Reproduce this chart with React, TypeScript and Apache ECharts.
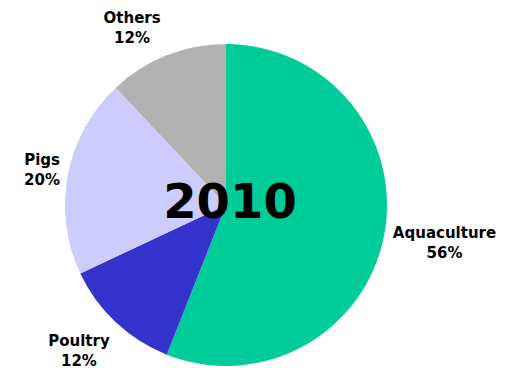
import React, { useEffect, useRef } from "react";
import * as echarts from "echarts";

const categories = ["Aquaculture", "Poultry", "Pigs", "Others"];
const shares = [56, 12, 20, 12];
const colors = ["#00CC99", "#3333CC", "#CCCCFF", "#B2B2B2"];
const yearLabel = "2010";

// small per-label nudges (style only)
const labelNudge: [number, number][] = [
  [-1, -4],
  [-7, -3],
  [3, 1],
  [-21, 7],
];

const CX = 226;
const CY = 205;
const R = 161;
const GAP = 8;
const FONT = "'DejaVu Sans', Verdana, sans-serif";

export default function App() {
  const ref = useRef<HTMLDivElement>(null);
  useEffect(() => {
    document.body.style.margin = "0";
    if (!ref.current) return;
    const chart = echarts.init(ref.current, undefined, { renderer: "svg" });
    const total = shares.reduce((a, b) => a + b, 0);
    const midAngle = (i: number) => {
      let before = 0;
      for (let k = 0; k < i; k++) before += shares[k];
      const frac = (before + shares[i] / 2) / total;
      return Math.PI / 2 - frac * 2 * Math.PI;
    };
    chart.setOption({
      animation: false,
      graphic: [
        {
          type: "text",
          x: 230,
          y: 201,
          z: 100,
          style: {
            text: yearLabel,
            font: `bold 48px ${FONT}`,
            fill: "#000",
            align: "center",
            verticalAlign: "middle",
          },
        },
      ],
      series: [
        {
          type: "pie",
          center: [CX, CY],
          radius: R,
          startAngle: 90,
          clockwise: true,
          data: categories.map((name, i) => ({
            name,
            value: shares[i],
            itemStyle: { color: colors[i] },
          })),
          label: {
            show: true,
            position: "outside",
            formatter: "{b}\n{d}%",
            fontFamily: FONT,
            fontWeight: "bold",
            fontSize: 15,
            lineHeight: 20,
            color: "#000",
            align: "center",
            overflow: "none",
          },
          labelLine: { show: false },
          labelLayout: (params: any) => {
            const i = params.dataIndex;
            const a = midAngle(i);
            const dx = Math.cos(a);
            const dy = -Math.sin(a);
            const w = ctxWidth(categories[i]);
            const hw = w / 2;
            const hh = 20;
            const d = R + GAP + hw * Math.abs(dx) + hh * Math.abs(dy);
            return {
              x: CX + dx * d + labelNudge[i][0],
              y: CY + dy * d + labelNudge[i][1],
              align: "center",
              verticalAlign: "middle",
            };
          },
        },
      ],
    });
    return () => chart.dispose();
  }, []);
  return <div ref={ref} style={{ width: 508, height: 368 }} />;
}

function ctxWidth(text: string): number {
  const c = document.createElement("canvas").getContext("2d");
  if (!c) return text.length * 9;
  c.font = `bold 15px ${FONT}`;
  return c.measureText(text).width;
}
